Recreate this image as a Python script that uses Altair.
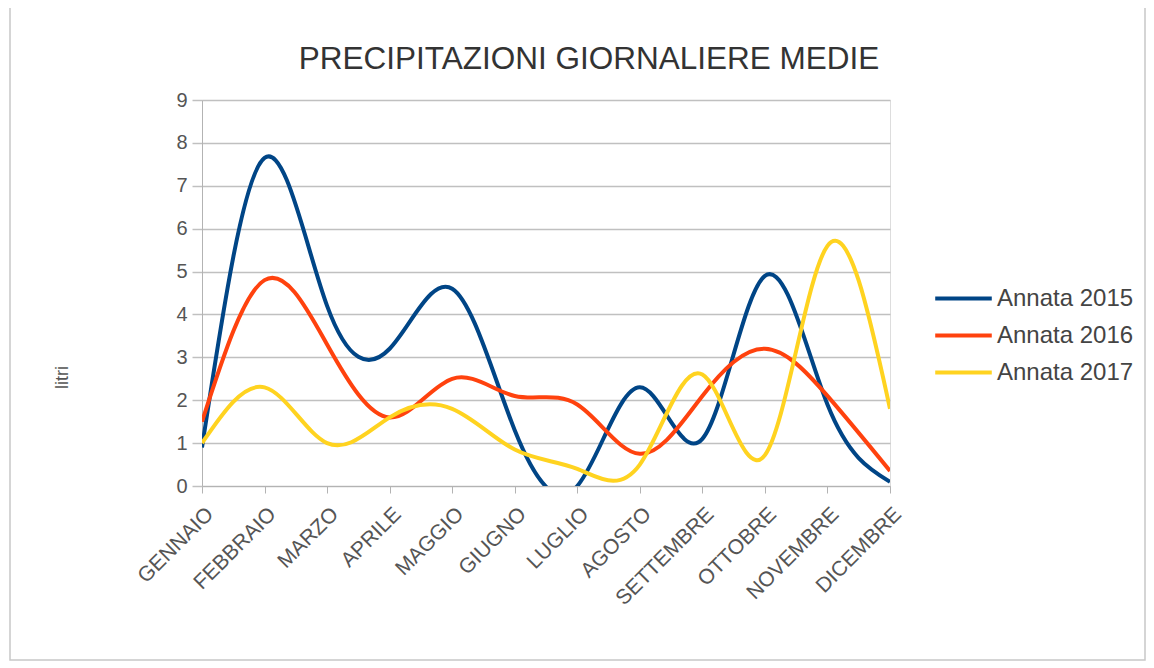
import altair as alt
import pandas as pd

months = ["GENNAIO", "FEBBRAIO", "MARZO", "APRILE", "MAGGIO", "GIUGNO",
          "LUGLIO", "AGOSTO", "SETTEMBRE", "OTTOBRE", "NOVEMBRE", "DICEMBRE"]
series_names = ["Annata 2015", "Annata 2016", "Annata 2017"]
v2015 = [0.9, 7.65, 4.2, 3.2, 4.6, 1.3, 0.0, 2.3, 1.1, 4.9, 1.9, 0.1]
v2016 = [1.5, 4.8, 3.3, 1.6, 2.5, 2.1, 1.9, 0.75, 2.1, 3.2, 2.1, 0.35]
v2017 = [1.0, 2.3, 1.0, 1.6, 1.8, 0.85, 0.4, 0.5, 2.6, 0.72, 5.6, 1.8]
colors = ["#004586", "#ff420e", "#ffd320"]

rows = []
for name, vals in zip(series_names, [v2015, v2016, v2017]):
    for m, v in zip(months, vals):
        rows.append({"mese": m, "litri": v, "serie": name})
df = pd.DataFrame(rows)

FONT = "Liberation Sans"

lines = alt.Chart(df).mark_line(interpolate="natural", strokeWidth=4, clip=True).encode(
    x=alt.X("mese:N", sort=months, title=None,
            scale=alt.Scale(type="point", padding=0),
            axis=alt.Axis(labelAngle=-45, labelFontSize=21, labelColor="#555",
                          labelFont=FONT, tickSize=7, tickColor="#b3b3b3",
                          domainColor="#b3b3b3", labelPadding=10, grid=False)),
    y=alt.Y("litri:Q", title="litri",
            scale=alt.Scale(domain=[0, 9], nice=False),
            axis=alt.Axis(values=list(range(10)), labelFontSize=20, labelColor="#555",
                          labelFont=FONT, tickSize=10, tickColor="#c0c0c0",
                          domainColor="#b3b3b3", gridColor="#c0c0c0", gridWidth=1.5,
                          tickWidth=1.5,
                          titleFont=FONT, titleFontSize=18, titleFontWeight="normal",
                          titleColor="#555", titleX=-131, titleY=277, labelPadding=5)),
    color=alt.Color("serie:N", sort=series_names,
                    scale=alt.Scale(domain=series_names, range=colors),
                    legend=alt.Legend(title=None, orient="none", legendX=731, legendY=180,
                                      symbolType="stroke", symbolSize=3200,
                                      symbolStrokeWidth=4, labelFontSize=24,
                                      labelFont=FONT, labelColor="#444",
                                      clipHeight=37, rowPadding=0, labelOffset=3)),
)

frame = alt.Chart(pd.DataFrame({"a": [0]})).mark_rect(
    fill="transparent", stroke="#c8c8c8", strokeWidth=1.5
).encode(x=alt.value(-192), x2=alt.value(943), y=alt.value(-95), y2=alt.value(560))

chart = alt.layer(frame, lines).properties(
    width=688, height=386,
    title=alt.TitleParams("PRECIPITAZIONI GIORNALIERE MEDIE", fontSize=31.5,
                          font=FONT, fontWeight="normal", color="#333",
                          anchor="middle", frame="group", dx=43, offset=-96,
                          baseline="alphabetic"),
    autosize=alt.AutoSizeParams(type="none"),
    padding={"left": 194, "top": 92, "right": 256, "bottom": 175},
).configure_view(stroke="#c0c0c0", strokeWidth=1.5).configure(background="white")

chart.save("out.html", embed_options={"renderer": "svg", "actions": False})
